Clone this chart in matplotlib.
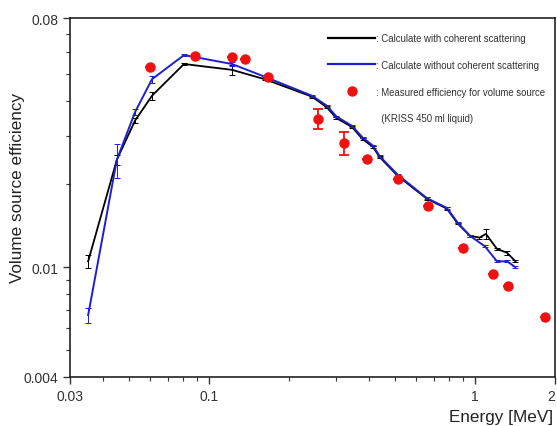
#!/usr/bin/env python
"""Volume source efficiency vs energy: calculated (with / without coherent scattering) and measured."""

import matplotlib

matplotlib.use("Agg")
import matplotlib.pyplot as plt
from matplotlib.lines import Line2D
from matplotlib.ticker import FixedLocator, FixedFormatter, NullFormatter

plt.rcParams["font.family"] = ["Liberation Sans", "DejaVu Sans"]

# calculated, with coherent scattering
E_COH = [0.0351, 0.045, 0.0527, 0.061, 0.0805, 0.122, 0.162, 0.244, 0.277, 0.301, 0.345,
         0.378, 0.413, 0.439, 0.513, 0.659, 0.784, 0.861, 0.957, 1.04, 1.10, 1.21, 1.32, 1.42]
EFF_COH = [0.0105, 0.0245, 0.034, 0.0418, 0.0545, 0.0519, 0.048, 0.0415, 0.038, 0.0347, 0.0322,
           0.0291, 0.0273, 0.0250, 0.0214, 0.0177, 0.0163, 0.0144, 0.0130, 0.0128, 0.0132,
           0.01165, 0.01128, 0.0105]
ERR_COH = [0.0006, 0.0010, 0.0008, 0.0015, 0.0003, 0.0020, 0.0003, 0.0004, 0.0003, 0.0003, 0.0003,
           0.0003, 0.0002, 0.0002, 0.0002, 0.0002, 0.0002, 0.0001, 0.0001, 0.0001, 0.0005,
           0.0001, 0.0002, 0.0001]

# calculated, without coherent scattering
E_NOCOH = [0.0351, 0.045, 0.0527, 0.061, 0.0805, 0.122, 0.162, 0.244, 0.277, 0.301, 0.345,
           0.378, 0.413, 0.439, 0.513, 0.659, 0.784, 0.861, 0.957, 1.09, 1.21, 1.32, 1.42]
EFF_NOCOH = [0.0067, 0.0245, 0.0365, 0.048, 0.0587, 0.0545, 0.049, 0.0418, 0.0385, 0.0352, 0.0325,
             0.0295, 0.0276, 0.0252, 0.0216, 0.0178, 0.0164, 0.0145, 0.0130, 0.0119, 0.0105,
             0.0105, 0.0100]
ERR_NOCOH = [0.0004, 0.0035, 0.0010, 0.0015, 0.0003, 0.0008, 0.0003, 0.0003, 0.0003, 0.0002, 0.0002,
             0.0002, 0.0002, 0.0002, 0.0002, 0.0002, 0.0001, 0.0001, 0.0001, 0.0001, 0.0001,
             0.0001, 0.0001]

# measured, KRISS 450 ml liquid
E_MEAS = [0.060, 0.0885, 0.122, 0.136, 0.1665, 0.2565, 0.321, 0.393, 0.513, 0.664, 0.90, 1.166, 1.33, 1.83]
EFF_MEAS = [0.0532, 0.0582, 0.0578, 0.0570, 0.0489, 0.0345, 0.0282, 0.0247, 0.0209, 0.0167,
            0.01175, 0.00946, 0.00855, 0.0066]
ERR_MEAS_LO = [0, 0, 0, 0, 0, 0.0028, 0.0027, 0, 0, 0, 0, 0, 0, 0]
ERR_MEAS_HI = [0, 0, 0, 0, 0, 0.0030, 0.0027, 0, 0, 0, 0, 0, 0, 0]

X_MAJOR = [0.03, 0.1, 1, 2]
X_LABELS = ["0.03", "0.1", "1", "2"]
Y_MAJOR = [0.004, 0.01, 0.08]
Y_LABELS = ["0.004", "0.01", "0.08"]

TICK_COLOR = "#333333"
BLUE = "#1f1fd0"
RED = "#f01010"


def main() -> None:
    fig = plt.figure(figsize=(5.57, 4.27), dpi=100)
    ax = fig.add_axes([0.1257, 0.1148, 0.8707, 0.8407])

    ax.errorbar(E_COH, EFF_COH, yerr=ERR_COH, color="black", lw=1.3,
                elinewidth=0.7, capsize=2.5, capthick=0.7, zorder=3)
    ax.errorbar(E_NOCOH, EFF_NOCOH, yerr=ERR_NOCOH, color=BLUE, lw=1.4,
                elinewidth=0.7, capsize=2.5, capthick=0.7, zorder=4)
    ax.errorbar(E_MEAS, EFF_MEAS, yerr=[ERR_MEAS_LO, ERR_MEAS_HI], fmt="o", color=RED,
                ms=6.5, elinewidth=1.3, capsize=3.5, capthick=1.3, zorder=5)

    ax.set_xscale("log")
    ax.set_yscale("log")
    ax.set_xlim(0.03, 2)
    ax.set_ylim(0.004, 0.08)

    ax.xaxis.set_major_locator(FixedLocator(X_MAJOR))
    ax.xaxis.set_major_formatter(FixedFormatter(X_LABELS))
    x_minor = [m * 0.01 for m in range(4, 10)] + [m * 0.1 for m in range(2, 10)]
    ax.xaxis.set_minor_locator(FixedLocator(x_minor))
    ax.xaxis.set_minor_formatter(NullFormatter())

    ax.yaxis.set_major_locator(FixedLocator(Y_MAJOR))
    ax.yaxis.set_major_formatter(FixedFormatter(Y_LABELS))
    y_minor = [m * 0.001 for m in range(5, 10)] + [m * 0.01 for m in range(2, 8)]
    ax.yaxis.set_minor_locator(FixedLocator(y_minor))
    ax.yaxis.set_minor_formatter(NullFormatter())

    ax.tick_params(which="major", direction="out", length=5, width=1.0,
                   labelsize=10, labelcolor=TICK_COLOR, color="#333333")
    ax.tick_params(which="minor", direction="out", length=3, width=0.8, color="#333333")
    for spine in ax.spines.values():
        spine.set_linewidth(1.2)
        spine.set_color("#222222")

    # last x label sits on the figure edge; pull it inside
    fig.canvas.draw()
    ax.get_xticklabels()[-1].set_horizontalalignment("right")

    fig.text(0.032, 0.56, "Volume source efficiency", rotation=90, ha="center", va="center",
             fontsize=12.3, color="#222222")
    fig.text(0.806, 0.023, "Energy [MeV]", ha="left", va="center", fontsize=12.3, color="#222222")

    handles = [
        Line2D([], [], color="black", lw=1.6),
        Line2D([], [], color=BLUE, lw=1.6),
        Line2D([], [], color=RED, marker="o", ls="none", ms=6.5),
        Line2D([], [], color="none"),
    ]
    labels = [
        ": Calculate with coherent scattering",
        ": Calculate without coherent scattering",
        ": Measured efficiency for volume source",
        "  (KRISS 450 ml liquid)",
    ]
    leg = ax.legend(handles, labels, loc="upper left", bbox_to_anchor=(0.532, 0.958),
                    frameon=False, fontsize=6.9, handlelength=4.9, handletextpad=0.1,
                    labelspacing=1.75, borderpad=0, borderaxespad=0)
    for text in leg.get_texts():
        text.set_color("#333333")

    fig.savefig("out.png", dpi=100)
    plt.close(fig)


if __name__ == "__main__":
    main()
